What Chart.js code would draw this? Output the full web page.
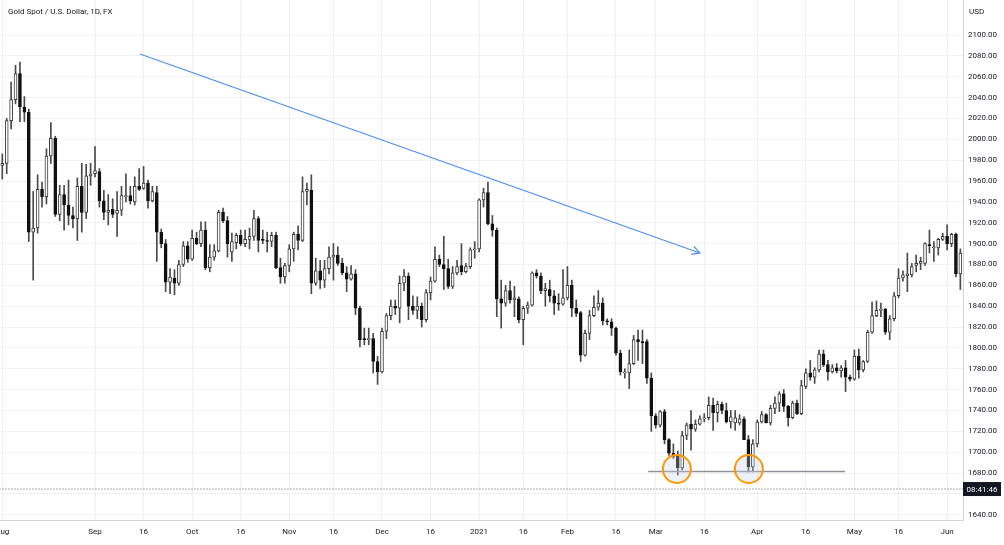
<!DOCTYPE html>
<html>
<head>
<meta charset="utf-8">
<script src="https://cdn.jsdelivr.net/npm/chart.js@4.4.0/dist/chart.umd.min.js"></script>
<style>
  body { margin: 0; background: #fff; }
</style>
</head>
<body>
<canvas id="chart" width="1004" height="545"></canvas>
<script>
// daily candles, 3 Aug 2020 .. 4 Jun 2021 (index = trading day)
const opens = [
  1975,1977,2018,2038,2063,2031,2026,1911,1915,1952,
  1945,1984,2001,1928,1947,1937,1927,1924,1955,1930,
  1965,1967,1969,1941,1930,1933,1929,1932,1945,1946,
  1940,1955,1953,1958,1941,1949,1911,1900,1863,1867,
  1862,1880,1898,1885,1905,1900,1913,1877,1887,1893,
  1930,1922,1892,1901,1908,1900,1904,1907,1924,1904,
  1903,1902,1908,1877,1868,1879,1895,1909,1903,1950,
  1951,1862,1874,1865,1876,1887,1889,1881,1872,1866,
  1871,1838,1809,1808,1809,1787,1777,1816,1831,1840,
  1838,1862,1869,1840,1836,1840,1827,1853,1864,1885,
  1880,1876,1859,1872,1879,1873,1878,1894,1895,1942,
  1949,1919,1913,1847,1843,1855,1846,1847,1827,1838,
  1841,1872,1869,1855,1856,1850,1843,1842,1848,1860,
  1838,1834,1793,1814,1831,1839,1843,1826,1825,1819,
  1795,1776,1776,1785,1808,1806,1806,1771,1735,1726,
  1739,1712,1699,1696,1685,1716,1727,1722,1727,1732,
  1733,1745,1738,1746,1740,1729,1728,1728,1732,1712,
  1686,1708,1729,1736,1728,1742,1747,1756,1744,1733,
  1747,1737,1763,1776,1772,1779,1794,1784,1777,1781,
  1778,1781,1772,1770,1792,1779,1787,1815,1831,1836,
  1837,1815,1828,1850,1867,1869,1870,1879,1881,1881,
  1899,1896,1896,1904,1907,1900,1909,1871
];
const highs = [
  1986,2020,2055,2071,2074,2041,2029,1950,1966,1959,
  1991,2016,2003,1956,1956,1961,1935,1963,1977,1976,
  1977,1993,1972,1951,1947,1943,1950,1955,1967,1955,
  1964,1972,1974,1961,1955,1955,1914,1904,1876,1875,
  1884,1902,1902,1913,1911,1921,1921,1899,1899,1932,
  1934,1926,1910,1910,1913,1913,1915,1932,1926,1913,
  1911,1911,1911,1886,1881,1899,1911,1917,1964,1958,
  1966,1886,1884,1884,1897,1900,1897,1886,1878,1879,
  1875,1840,1819,1819,1814,1792,1819,1833,1846,1846,
  1869,1875,1872,1850,1849,1843,1856,1868,1897,1889,
  1907,1885,1878,1884,1900,1881,1896,1902,1943,1953,
  1959,1927,1915,1865,1860,1864,1859,1849,1840,1844,
  1873,1875,1872,1862,1865,1855,1852,1875,1878,1865,
  1846,1835,1817,1836,1850,1855,1848,1828,1828,1820,
  1798,1780,1798,1812,1817,1817,1808,1776,1737,1740,
  1741,1713,1708,1701,1720,1728,1740,1731,1735,1737,
  1753,1752,1749,1748,1747,1740,1740,1736,1734,1716,
  1712,1731,1739,1737,1745,1753,1758,1760,1745,1749,
  1750,1769,1780,1788,1781,1798,1798,1788,1784,1785,
  1783,1788,1774,1798,1799,1788,1817,1844,1845,1843,
  1838,1831,1853,1876,1874,1891,1881,1889,1887,1901,
  1913,1902,1905,1910,1918,1910,1910,1895
];
const lows = [
  1962,1967,2010,2034,2017,2017,1902,1865,1910,1935,
  1938,1977,1926,1922,1913,1918,1915,1903,1911,1924,
  1956,1964,1935,1923,1918,1925,1907,1927,1940,1938,
  1937,1951,1952,1934,1940,1883,1896,1854,1852,1851,
  1860,1878,1882,1884,1899,1897,1875,1873,1884,1892,
  1920,1887,1883,1895,1898,1897,1895,1903,1892,1900,
  1892,1897,1876,1862,1862,1873,1883,1894,1902,1937,
  1852,1860,1857,1858,1871,1865,1879,1870,1854,1865,
  1832,1801,1803,1803,1776,1765,1776,1809,1827,1832,
  1824,1855,1827,1832,1828,1820,1825,1846,1863,1878,
  1856,1857,1857,1870,1870,1872,1876,1886,1892,1935,
  1918,1907,1830,1819,1840,1843,1830,1824,1803,1833,
  1840,1867,1852,1840,1844,1832,1836,1841,1846,1830,
  1830,1787,1792,1808,1830,1836,1822,1822,1812,1793,
  1774,1771,1761,1784,1788,1785,1766,1720,1723,1724,
  1708,1697,1694,1678,1683,1712,1702,1720,1726,1729,
  1731,1721,1729,1737,1728,1723,1721,1726,1712,1681,
  1681,1705,1728,1728,1726,1737,1739,1739,1725,1732,
  1736,1736,1761,1769,1766,1777,1782,1769,1776,1776,
  1772,1758,1768,1769,1771,1777,1786,1814,1830,1830,
  1813,1808,1826,1848,1864,1854,1868,1873,1875,1879,
  1891,1883,1889,1903,1894,1897,1868,1856
];
const closes = [
  1977,2018,2038,2063,2031,2026,1911,1915,1952,1945,
  1984,2001,1928,1947,1937,1927,1924,1955,1930,1965,
  1967,1970,1941,1930,1932,1928,1932,1946,1946,1941,
  1955,1952,1958,1941,1950,1911,1900,1863,1868,1862,
  1880,1898,1885,1905,1900,1913,1877,1887,1893,1930,
  1922,1900,1902,1908,1900,1904,1907,1924,1903,1903,
  1902,1908,1877,1868,1879,1895,1909,1903,1950,1952,
  1862,1874,1865,1876,1887,1889,1881,1872,1866,1871,
  1838,1808,1808,1809,1787,1777,1816,1831,1840,1838,
  1862,1869,1840,1836,1840,1827,1853,1864,1885,1880,
  1876,1859,1872,1878,1873,1878,1894,1895,1942,1949,
  1919,1913,1847,1843,1855,1846,1848,1827,1838,1841,
  1872,1869,1855,1857,1850,1843,1842,1848,1860,1838,
  1833,1793,1814,1831,1839,1843,1826,1825,1819,1795,
  1777,1776.5,1785,1808,1806,1805,1771,1735,1726,1739,
  1712,1699,1696,1685,1716,1726,1722,1727,1732,1733,
  1745,1738,1746,1740,1729,1734,1733,1732,1712,1686,
  1708,1729,1736,1728,1742,1747,1756,1744,1733,1747,
  1737,1764,1776,1772,1779,1794,1784,1777,1781,1778,
  1781,1772,1770,1792,1779,1787,1815,1831,1836,1837,
  1815,1828,1850,1867,1870,1871,1878,1881,1883,1900,
  1898,1897,1904,1907,1900,1909,1871,1891
];

// time axis labels (trading-day index -> text)
const xTickIdx = [0,21,32,43,54,65,75,86,97,108,118,128,139,148,159,171,182,193,203,214];
const xTickText = ['Aug','Sep','16','Oct','16','Nov','16','Dec','16','2021','16','Feb','16','Mar','16','Apr','16','May','16','Jun'];
const yTicks = [1640,1660,1680,1700,1720,1740,1760,1780,1800,1820,1840,1860,1880,1900,
                1920,1940,1960,1980,2000,2020,2040,2060,2080,2100];

// drawings on the chart (index, price)
const trendLine = [[31.2, 2081.8], [158.0, 1891.0]];
const supportLine = [[146.3, 1681.5], [190.9, 1681.5]];
const circleMarks = [[152.8, 1683.9], [169.1, 1683.9]];
const timerLevel = 1664.7;
const timerText = '08:41:46';

const textColor = '#131722';
const gridColor = '#f0f1f4';
const fontFamily = 'Roboto, "Liberation Sans", sans-serif';

const isUp = i => closes[i] >= opens[i];

const overlays = {
  id: 'overlays',
  afterDraw(chart) {
    const c = chart.ctx;
    const xs = chart.scales.x, ys = chart.scales.y;
    const area = chart.chartArea;

    // arrow head at the end of the trend line
    const x1 = xs.getPixelForValue(trendLine[0][0]), y1 = ys.getPixelForValue(trendLine[0][1]);
    const x2 = xs.getPixelForValue(trendLine[1][0]), y2 = ys.getPixelForValue(trendLine[1][1]);
    const ang = Math.atan2(y2 - y1, x2 - x1);
    c.save();
    c.strokeStyle = '#4e8df5';
    c.lineWidth = 1.2;
    c.beginPath();
    c.moveTo(x2 - 9 * Math.cos(ang - 0.5), y2 - 9 * Math.sin(ang - 0.5));
    c.lineTo(x2, y2);
    c.lineTo(x2 - 9 * Math.cos(ang + 0.5), y2 - 9 * Math.sin(ang + 0.5));
    c.stroke();

    // title and currency
    c.font = '8px ' + fontFamily;
    c.fillStyle = textColor;
    c.textBaseline = 'middle';
    c.textAlign = 'left';
    c.fillText('Gold Spot / U.S. Dollar, 1D, FX', 8, 12);
    c.fillText('USD', area.right + 6, 12);

    // countdown label
    const ty = ys.getPixelForValue(timerLevel);
    c.fillStyle = textColor;
    c.fillRect(area.right, ty - 7, 38, 14);
    c.fillStyle = '#fff';
    c.textAlign = 'center';
    c.fillText(timerText, area.right + 19, ty + 0.5);
    c.restore();
  }
};

new Chart(document.getElementById('chart'), {
  type: 'bar',
  data: {
    datasets: [
      {
        label: 'wicks',
        data: highs.map((h, i) => ({ x: i, y: [lows[i], h] })),
        backgroundColor: '#4a4a4a',
        barThickness: 1,
        grouped: false,
        order: 5
      },
      {
        label: 'bodies',
        data: opens.map((o, i) => ({ x: i, y: [o, closes[i]] })),
        backgroundColor: ctx => isUp(ctx.dataIndex) ? '#ffffff' : '#111111',
        borderColor: ctx => isUp(ctx.dataIndex) ? '#3a3a3a' : '#111111',
        borderWidth: 1,
        borderSkipped: false,
        barThickness: 3,
        minBarLength: 1,
        grouped: false,
        order: 4
      },
      {
        type: 'line',
        label: 'level',
        data: [{ x: -2, y: timerLevel }, { x: 220, y: timerLevel }],
        borderColor: '#555',
        borderWidth: 1,
        borderDash: [1, 2],
        pointRadius: 0,
        order: 3
      },
      {
        type: 'line',
        label: 'support',
        data: supportLine.map(p => ({ x: p[0], y: p[1] })),
        borderColor: '#8f929b',
        borderWidth: 1.5,
        pointRadius: 0,
        order: 2
      },
      {
        type: 'line',
        label: 'circles',
        data: circleMarks.map(p => ({ x: p[0], y: p[1] })),
        showLine: false,
        pointRadius: 14,
        pointBorderWidth: 2,
        pointBorderColor: '#ff9800',
        pointBackgroundColor: 'rgba(200,210,228,0.3)',
        order: 1
      },
      {
        type: 'line',
        label: 'trend',
        data: trendLine.map(p => ({ x: p[0], y: p[1] })),
        borderColor: '#4e8df5',
        borderWidth: 1.2,
        pointRadius: 0,
        order: 0
      }
    ]
  },
  options: {
    responsive: false,
    animation: false,
    layout: { padding: 0, autoPadding: false },
    plugins: { legend: { display: false }, tooltip: { enabled: false } },
    scales: {
      x: {
        type: 'linear',
        min: -0.52,
        max: 217.6,
        offset: false,
        grid: { color: gridColor, offset: false, drawTicks: false },
        border: { color: '#d1d4dc' },
        ticks: {
          autoSkip: false,
          maxRotation: 0,
          padding: 7,
          color: textColor,
          font: { family: fontFamily, size: 8 },
          callback: (v, i) => xTickText[i]
        },
        afterBuildTicks: s => { s.ticks = xTickIdx.map(v => ({ value: v })); },
        afterFit: s => { s.height = 25; s.paddingLeft = 0; s.paddingRight = 0; }
      },
      y: {
        position: 'right',
        min: 1635,
        max: 2133.6,
        beginAtZero: false,
        grid: { color: gridColor, drawTicks: false },
        border: { color: '#d1d4dc' },
        ticks: {
          padding: 5,
          color: textColor,
          font: { family: fontFamily, size: 8 },
          callback: v => v.toFixed(2)
        },
        afterBuildTicks: s => { s.ticks = yTicks.map(v => ({ value: v })); },
        afterFit: s => { s.width = 41; s.paddingTop = 0; s.paddingBottom = 0; }
      }
    }
  },
  plugins: [overlays]
});
</script>
</body>
</html>
